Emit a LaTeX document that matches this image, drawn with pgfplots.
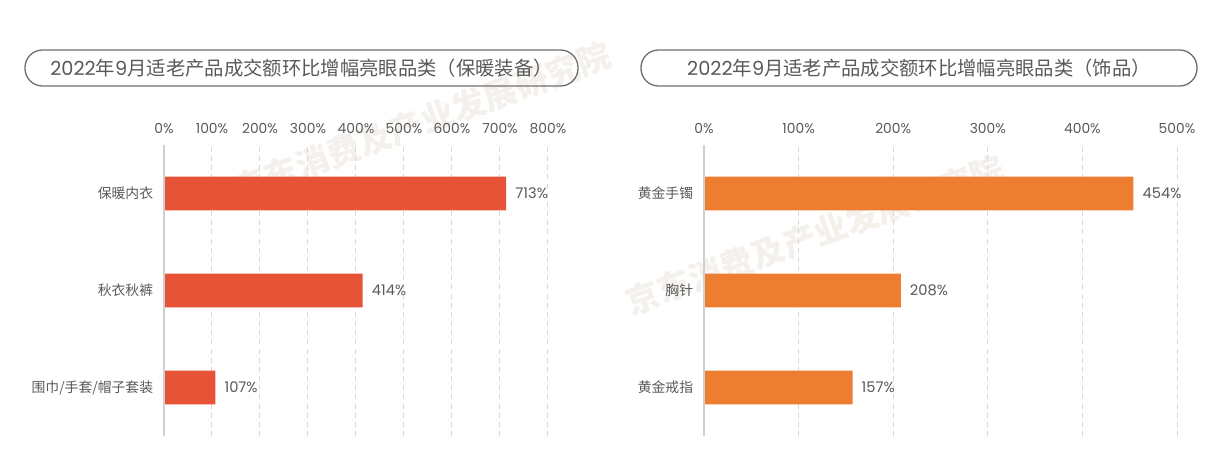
\documentclass[border=0pt]{standalone}
\usepackage{pgfplots}
\pgfplotsset{compat=1.18}
\usepackage{fontspec}
\setmainfont{Noto Sans CJK SC}
\newfontfamily\numfont{Poppins}
\definecolor{txt}{HTML}{595959}
\definecolor{gridc}{HTML}{D9D9D9}
\definecolor{axisc}{HTML}{D0D0D0}
\definecolor{barL}{HTML}{E65336}
\definecolor{barR}{HTML}{ED7D31}
\definecolor{boxc}{HTML}{707070}
\definecolor{wm}{HTML}{F4F0EC}
\pgfplotsset{
  myaxis/.style={
    anchor=south west, scale only axis,
    xbar, bar width=0.35,
    ymin=-0.5, ymax=2.5, xmin=0,
    /pgf/number format/assume math mode=true,
    xticklabel pos=upper,
    xticklabel={\numfont\pgfmathprintnumber{\tick}\%},
    xticklabel style={font=\fontsize{8.3}{10}\selectfont, text=txt, yshift=3pt},
    yticklabel style={font=\fontsize{8.3}{10}\selectfont, text=txt, xshift=-3pt},
    ytick={0,1,2},
    axis line style={draw=none}, major tick length=0,
    xmajorgrids, grid style={dash pattern=on 3pt off 2.5pt, draw=gridc, line width=0.6pt},
    nodes near coords={\numfont\pgfmathprintnumber{\pgfplotspointmeta}\%},
    point meta=x,
    nodes near coords style={font=\fontsize{8.8}{10}\selectfont, text=txt, xshift=2pt},
    clip=false,
  }
}
\begin{document}
\begin{tikzpicture}[x=0.6pt,y=0.6pt]
\path (0,0) rectangle (1229,471);
% watermark
\node[rotate=20, text=wm, font=\fontsize{20}{20}\selectfont\bfseries] at (422,349) {京东消费及产业发展研究院};
\node[rotate=20, text=wm, font=\fontsize{20}{20}\selectfont\bfseries] at (815,236) {京东消费及产业发展研究院};
% title boxes
\draw[boxc, line width=0.8pt, rounded corners=10.5pt] (25,385) rectangle (578,421);
\node[text=txt, font=\fontsize{11.6}{12}\selectfont] at (301.5,403) {\numfont 2022\rmfamily 年\numfont 9\rmfamily 月适老产品成交额环比增幅亮眼品类（保暖装备）};
\draw[boxc, line width=0.8pt, rounded corners=10.5pt] (641,385) rectangle (1197,421);
\node[text=txt, font=\fontsize{11.6}{12}\selectfont] at (919,403) {\numfont 2022\rmfamily 年\numfont 9\rmfamily 月适老产品成交额环比增幅亮眼品类（饰品）};
\begin{axis}[myaxis,
  at={(98.4pt,21pt)}, width=230.4pt, height=174.6pt,
  xmax=800, xtick={0,100,...,800},
  yticklabels={围巾/手套/帽子套装,秋衣秋裤,保暖内衣},
]
\addplot[fill=barL, draw=none] coordinates {(107,0) (414,1) (713,2)};
\draw[axisc, line width=0.7pt] (axis cs:0,-0.5) -- (axis cs:0,2.5);
\end{axis}
\begin{axis}[myaxis,
  at={(422.4pt,21pt)}, width=283.8pt, height=174.6pt,
  xmax=500, xtick={0,100,...,500},
  yticklabels={黄金戒指,胸针,黄金手镯},
]
\addplot[fill=barR, draw=none] coordinates {(157,0) (208,1) (454,2)};
\draw[axisc, line width=0.7pt] (axis cs:0,-0.5) -- (axis cs:0,2.5);
\end{axis}
\end{tikzpicture}
\end{document}
